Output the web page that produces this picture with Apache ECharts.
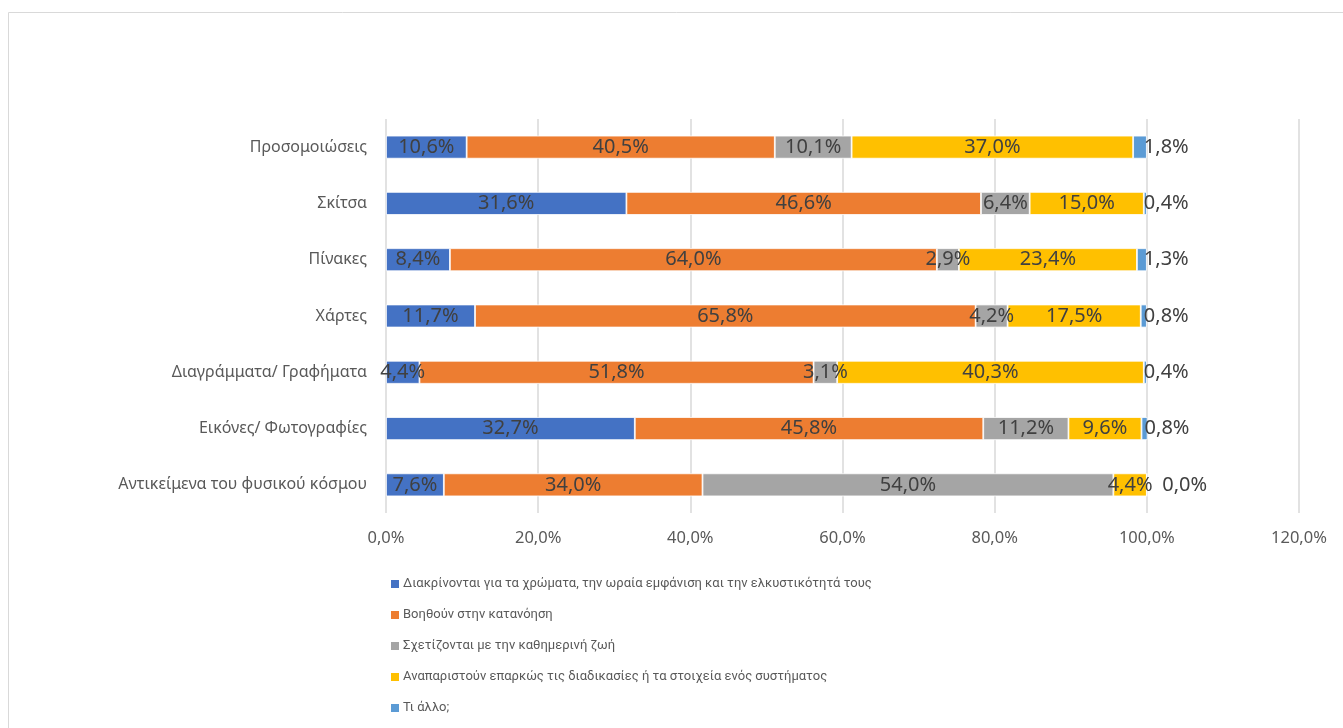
<!DOCTYPE html>
<html>
<head>
<meta charset="utf-8">
<script src="https://cdn.jsdelivr.net/npm/echarts@6/dist/echarts.min.js"></script>
<style>
  html, body { margin: 0; padding: 0; background: #fff; }
  #chart { width: 1343px; height: 728px; }
</style>
</head>
<body>
<div id="chart"></div>
<script>
// categories top to bottom
var categories = ['Προσομοιώσεις', 'Σκίτσα', 'Πίνακες', 'Χάρτες', 'Διαγράμματα/ Γραφήματα', 'Εικόνες/ Φωτογραφίες', 'Αντικείμενα του φυσικού κόσμου'];

var seriesNames = [
  'Διακρίνονται για τα χρώματα, την ωραία εμφάνιση και την ελκυστικότητά τους',
  'Βοηθούν στην κατανόηση',
  'Σχετίζονται με την καθημερινή ζωή',
  'Αναπαριστούν επαρκώς τις διαδικασίες ή τα στοιχεία ενός συστήματος',
  'Τι άλλο;'
];

var attractive = [10.6, 31.6, 8.4, 11.7, 4.4, 32.7, 7.6];
var understanding = [40.5, 46.6, 64.0, 65.8, 51.8, 45.8, 34.0];
var everyday = [10.1, 6.4, 2.9, 4.2, 3.1, 11.2, 54.0];
var represent = [37.0, 15.0, 23.4, 17.5, 40.3, 9.6, 4.4];
var other = [1.8, 0.4, 1.3, 0.8, 0.4, 0.8, 0.0];

var colors = ['#4472C4', '#ED7D31', '#A5A5A5', '#FFC000', '#5B9BD5'];
var font = '"Noto Sans", "DejaVu Sans", sans-serif';

function pct(v) {
  return v.toFixed(1).replace('.', ',') + '%';
}

var chart = echarts.init(document.getElementById('chart'));

var allData = [attractive, understanding, everyday, represent, other];
var series = allData.map(function (vals, i) {
  var last = i === allData.length - 1;
  return {
    name: seriesNames[i],
    type: 'bar',
    stack: 'total',
    barWidth: 23,
    itemStyle: { color: colors[i], borderColor: '#fff', borderWidth: 0.8 },
    label: {
      show: true,
      position: last ? 'right' : 'inside',
      distance: last ? -3 : 5,
      color: '#404040',
      fontSize: 20,
      fontFamily: font,
      formatter: function (p) { return pct(p.value); }
    },
    data: vals.map(function (v) {
      if (last && v === 0) {
        return { value: v, label: { distance: 15 } };
      }
      return v;
    })
  };
});

chart.setOption({
  animation: false,
  graphic: [{
    type: 'rect',
    shape: { x: 8.5, y: 12.5, width: 1400, height: 800 },
    style: { fill: 'none', stroke: '#d9d9d9', lineWidth: 1 },
    silent: true
  }],
  grid: { left: 386, right: 44, top: 119, bottom: 215 },
  legend: {
    orient: 'vertical',
    left: 389,
    top: 574,
    padding: 0,
    itemGap: 11,
    itemWidth: 10,
    itemHeight: 10,
    icon: 'rect',
    data: seriesNames,
    textStyle: { fontSize: 13, color: '#595959', fontFamily: 'Roboto, "Noto Sans", sans-serif', lineHeight: 20, padding: [0, 0, 0, -2] }
  },
  xAxis: {
    type: 'value',
    min: 0,
    max: 120,
    interval: 20,
    axisLine: { show: false },
    axisTick: { show: false },
    splitLine: { lineStyle: { color: '#d9d9d9', width: 1.5 } },
    axisLabel: {
      color: '#595959',
      fontSize: 16.5,
      fontFamily: font,
      margin: 17,
      formatter: function (v) { return pct(v); }
    }
  },
  yAxis: {
    type: 'category',
    inverse: true,
    data: categories,
    axisLine: { show: false },
    axisTick: { show: false },
    axisLabel: { color: '#595959', fontSize: 16, fontFamily: font, margin: 19 }
  },
  series: series
});
</script>
</body>
</html>
